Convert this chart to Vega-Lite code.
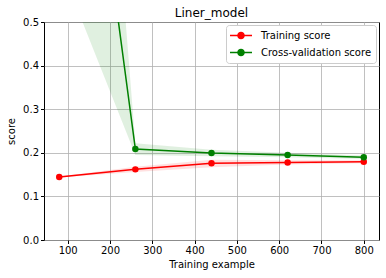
{
  "$schema": "https://vega.github.io/schema/vega-lite/v6.json",
  "autosize": {"type": "none"},
  "width": 335,
  "height": 218,
  "padding": {"left": 44, "top": 22, "right": 7, "bottom": 38},
  "background": "white",
  "title": {"text": "Liner_model", "font": "DejaVu Sans", "fontSize": 12, "fontWeight": "normal", "color": "black", "offset": -3},
  "config": {
    "view": {"stroke": "black", "strokeWidth": 1},
    "axis": {
      "labelFont": "DejaVu Sans", "labelFontSize": 10, "labelColor": "black",
      "titleFont": "DejaVu Sans", "titleFontSize": 10, "titleColor": "black", "titleFontWeight": "normal",
      "tickColor": "black", "tickSize": 3.5, "domain": false,
      "gridColor": "#b0b0b0", "gridWidth": 0.8, "labelPadding": 2
    },
    "legend": {"labelFont": "DejaVu Sans", "labelFontSize": 10, "labelColor": "black"}
  },
  "data": {"values": [
    {"series": "Training score", "x": 80, "mean": 0.1445, "lo": 0.1435, "hi": 0.1455},
    {"series": "Training score", "x": 260, "mean": 0.162, "lo": 0.156, "hi": 0.168},
    {"series": "Training score", "x": 440, "mean": 0.176, "lo": 0.167, "hi": 0.184},
    {"series": "Training score", "x": 620, "mean": 0.178, "lo": 0.173, "hi": 0.183},
    {"series": "Training score", "x": 800, "mean": 0.1796, "lo": 0.176, "hi": 0.183},
    {"series": "Cross-validation score", "x": 80, "mean": 1.52, "lo": 0.634, "hi": 2.41},
    {"series": "Cross-validation score", "x": 260, "mean": 0.2087, "lo": 0.195, "hi": 0.222},
    {"series": "Cross-validation score", "x": 440, "mean": 0.1995, "lo": 0.192, "hi": 0.207},
    {"series": "Cross-validation score", "x": 620, "mean": 0.195, "lo": 0.19, "hi": 0.2},
    {"series": "Cross-validation score", "x": 800, "mean": 0.19, "lo": 0.186, "hi": 0.194}
  ]},
  "encoding": {
    "x": {"field": "x", "type": "quantitative", "scale": {"domain": [44, 836], "nice": false, "zero": false},
          "axis": {"values": [100, 200, 300, 400, 500, 600, 700, 800], "title": "Training example", "titlePadding": 4}},
    "color": {"field": "series", "type": "nominal",
      "scale": {"domain": ["Training score", "Cross-validation score"], "range": ["#ff0000", "#008000"]},
      "legend": {
        "title": null, "orient": "top-right", "offset": 3,
        "fillColor": "white", "strokeColor": "#cccccc", "cornerRadius": 3, "padding": 4,
        "symbolType": "M-2,0L2,0M-0.55,0A0.55,0.55 0 1,0 0.55,0A0.55,0.55 0 1,0 -0.55,0Z",
        "symbolSize": 121, "symbolStrokeWidth": 1.5, "symbolOffset": 4.5, "rowPadding": 4, "labelOffset": 13.5,
        "encode": {"symbols": {"update": {
          "fill": {"scale": "color", "field": "value"},
          "stroke": {"scale": "color", "field": "value"},
          "opacity": {"value": 1}, "fillOpacity": {"value": 1}, "strokeOpacity": {"value": 1}
        }}}
      }}
  },
  "layer": [
    {
      "mark": {"type": "area", "opacity": 0.12, "clip": true},
      "encoding": {
        "y": {"field": "lo", "type": "quantitative", "scale": {"domain": [0, 0.5], "nice": false},
              "axis": {"values": [0, 0.1, 0.2, 0.3, 0.4, 0.5], "format": ".1f", "title": "score", "titlePadding": 6}},
        "y2": {"field": "hi"}
      }
    },
    {
      "mark": {"type": "line", "strokeWidth": 1.5, "clip": true},
      "encoding": {"y": {"field": "mean", "type": "quantitative"}}
    },
    {
      "mark": {"type": "point", "filled": true, "opacity": 1, "size": 42, "clip": true},
      "encoding": {"y": {"field": "mean", "type": "quantitative"}}
    }
  ]
}
